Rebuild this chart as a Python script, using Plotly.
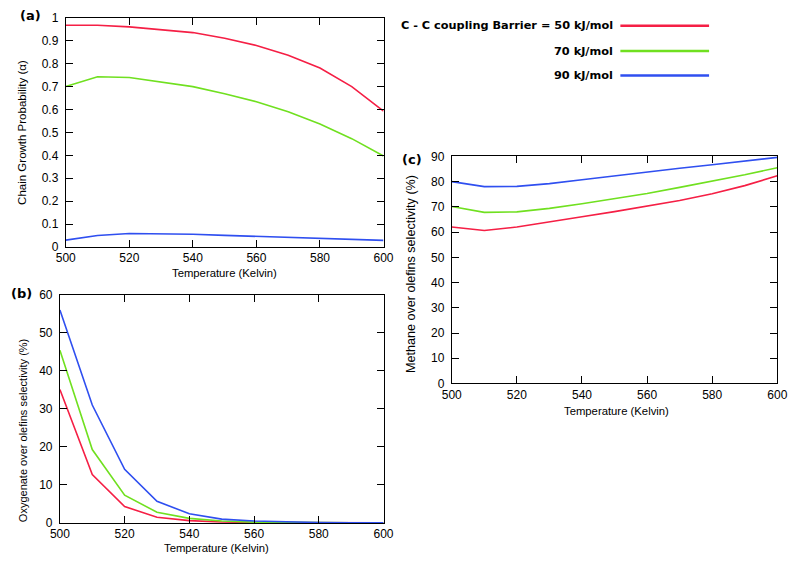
import plotly.graph_objects as go

temperature = [500, 510, 520, 530, 540, 550, 560, 570, 580, 590, 600]

series_names = ["50 kJ/mol", "70 kJ/mol", "90 kJ/mol"]
series_colors = ["#f51f45", "#70e020", "#2f4ff0"]

# (a) Chain growth probability
alpha_50 = [0.968, 0.968, 0.961, 0.950, 0.936, 0.911, 0.880, 0.837, 0.781, 0.700, 0.593]
alpha_70 = [0.701, 0.743, 0.740, 0.721, 0.700, 0.669, 0.634, 0.590, 0.537, 0.473, 0.397]
alpha_90 = [0.030, 0.050, 0.059, 0.059, 0.056, 0.051, 0.047, 0.043, 0.039, 0.033, 0.029]

# (b) Oxygenate over olefins selectivity (%)
oxy_50 = [35.1, 12.7, 4.3, 1.5, 0.6, 0.25, 0.1, 0.05, 0.02, 0.01, 0.0]
oxy_70 = [45.4, 19.3, 7.3, 2.8, 1.2, 0.5, 0.2, 0.08, 0.03, 0.01, 0.0]
oxy_90 = [56.0, 31.0, 14.1, 5.7, 2.4, 1.0, 0.5, 0.25, 0.1, 0.05, 0.02]

# (c) Methane over olefins selectivity (%)
meth_50 = [62.0, 60.6, 62.0, 63.9, 66.1, 68.1, 70.3, 72.5, 75.2, 78.4, 82.3]
meth_70 = [70.1, 67.8, 68.0, 69.4, 71.2, 73.2, 75.3, 77.7, 80.1, 82.7, 85.5]
meth_90 = [80.0, 78.0, 78.1, 79.2, 80.7, 82.3, 83.9, 85.3, 86.7, 88.1, 89.6]

x_ticks = [500, 520, 540, 560, 580, 600]

# the page body has an 8px margin; size the figure to reach the window's right/bottom edges
OFF = 8
W, H = 799 - OFF, 565 - OFF
fig = go.Figure()

panels = [
    ("x", "y", [alpha_50, alpha_70, alpha_90]),
    ("x2", "y2", [oxy_50, oxy_70, oxy_90]),
    ("x3", "y3", [meth_50, meth_70, meth_90]),
]
for xa, ya, data in panels:
    for name, col, vals in zip(series_names, series_colors, data):
        fig.add_trace(go.Scatter(x=temperature, y=vals, mode="lines", xaxis=xa, yaxis=ya,
                                 name=name, line=dict(color=col, width=1.6), showlegend=False))

def px_x(p):
    return (p - OFF) / W

def px_y(p):
    return 1 - (p - OFF) / H

axis_common = dict(showline=True, linecolor="black", linewidth=1, mirror="allticks",
                   ticks="inside", ticklen=7, tickcolor="black", tickwidth=1,
                   showgrid=False, zeroline=False,
                   tickfont=dict(family="Liberation Sans, Arial", size=12, color="black"))
xa_extra = dict(ticklabelstandoff=0)
ya_extra = dict(ticklabelstandoff=4)

fig.update_layout(
    width=W, height=H,
    margin=dict(l=0, r=0, t=0, b=0),
    paper_bgcolor="white", plot_bgcolor="white",
    xaxis=dict(domain=[px_x(57), px_x(383)], range=[500, 600], tickvals=x_ticks, anchor="y", **axis_common, **xa_extra),
    yaxis=dict(domain=[px_y(246), px_y(11)], range=[0, 1], dtick=0.1, anchor="x", **axis_common, **ya_extra),
    xaxis2=dict(domain=[px_x(51), px_x(383)], range=[500, 600], tickvals=x_ticks, anchor="y2", **axis_common, **xa_extra),
    yaxis2=dict(domain=[px_y(529), px_y(295)], range=[0, 60], dtick=10, anchor="x2", **axis_common, **ya_extra),
    xaxis3=dict(domain=[px_x(453), px_x(787)], range=[500, 600], tickvals=x_ticks, anchor="y3", **axis_common, **xa_extra),
    yaxis3=dict(domain=[px_y(386), px_y(153)], range=[0, 90], dtick=10, anchor="x3", **axis_common, **ya_extra),
)

def tf(size):
    return dict(family="Liberation Sans, Arial", size=size, color="black")

bold_font = dict(family="DejaVu Sans, Arial", size=13, color="black")

annotations = [
    # axis titles
    dict(text="Temperature (Kelvin)", x=px_x(220), y=px_y(273), font=tf(11.3)),
    dict(text="Temperature (Kelvin)", x=px_x(212), y=px_y(555), font=tf(11.3)),
    dict(text="Temperature (Kelvin)", x=px_x(622), y=px_y(414), font=tf(11.3)),
    dict(text="Chain Growth Probability (α)", x=px_x(12), y=px_y(128), textangle=-90, font=tf(11.5)),
    dict(text="Oxygenate over olefins selectivity (%)", x=px_x(13), y=px_y(434), textangle=-90, font=tf(11)),
    dict(text="Methane over olefins selectivity (%)", x=px_x(412), y=px_y(274), textangle=-90, font=tf(12.6)),
    # panel labels
    dict(text="<b>(a)</b>", x=px_x(8), y=px_y(9), xanchor="left", font=bold_font),
    dict(text="<b>(b)</b>", x=px_x(12), y=px_y(294), font=bold_font),
    dict(text="<b>(c)</b>", x=px_x(412), y=px_y(156), font=bold_font),
]
legend_text = ["C - C coupling Barrier = " + series_names[0], series_names[1], series_names[2]]
legend_y = [19, 45, 70]
for txt, ly in zip(legend_text, legend_y):
    annotations.append(dict(text="<b>" + txt + "</b>", x=px_x(620), y=px_y(ly), xanchor="right",
                            font=dict(family="DejaVu Sans, Arial", size=11.3, color="black")))
for a in annotations:
    a.setdefault("xanchor", "center")
    a.update(xref="paper", yref="paper", yanchor="middle", showarrow=False)
fig.update_layout(annotations=annotations)

shapes = []
for col, ly in zip(series_colors, legend_y):
    shapes.append(dict(type="line", xref="paper", yref="paper", x0=px_x(626), x1=px_x(717),
                       y0=px_y(ly), y1=px_y(ly), line=dict(color=col, width=2.6)))
fig.update_layout(shapes=shapes)

fig.write_html("out.html")
